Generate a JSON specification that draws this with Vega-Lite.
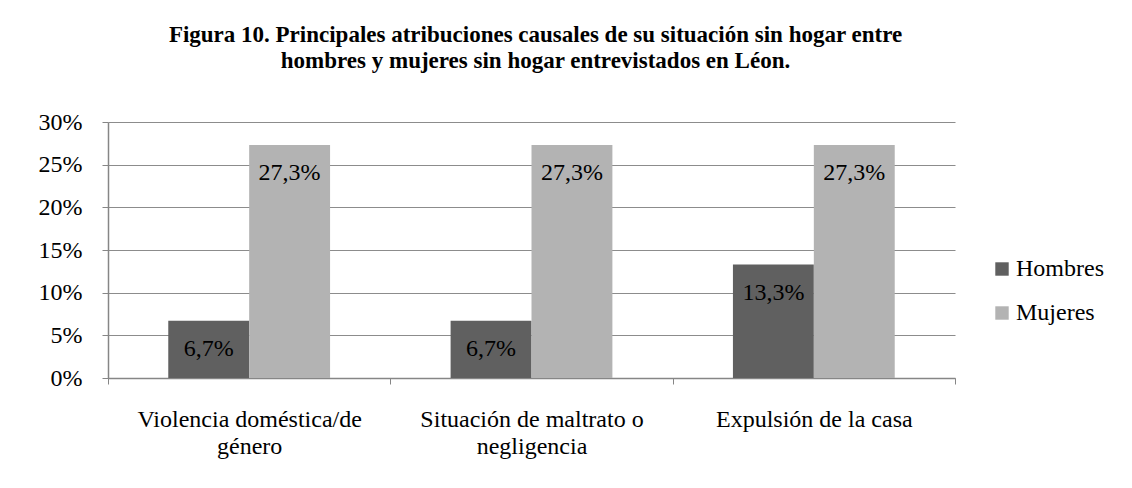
{
  "$schema": "https://vega.github.io/schema/vega-lite/v6.json",
  "width": 847,
  "height": 256,
  "autosize": {"type": "none"},
  "padding": {"left": 108, "top": 122, "right": 177, "bottom": 110},
  "background": "white",
  "config": {
    "font": "Liberation Serif, serif",
    "view": {"stroke": null},
    "locale": {"number": {"decimal": ",", "thousands": ".", "grouping": [3], "currency": ["", " €"]}}
  },
  "title": {
    "text": ["Figura 10. Principales atribuciones causales de su situación sin hogar entre", "hombres y mujeres sin hogar entrevistados en Léon."],
    "font": "Liberation Serif, serif",
    "fontSize": 23,
    "fontWeight": "bold",
    "color": "black",
    "anchor": "middle",
    "offset": 37,
    "lineHeight": 26,
    "dx": 4
  },
  "data": {
    "values": [
      {"categoria": "Violencia doméstica/de género", "sexo": "Hombres", "valor": 0.067},
      {"categoria": "Violencia doméstica/de género", "sexo": "Mujeres", "valor": 0.273},
      {"categoria": "Situación de maltrato o negligencia", "sexo": "Hombres", "valor": 0.067},
      {"categoria": "Situación de maltrato o negligencia", "sexo": "Mujeres", "valor": 0.273},
      {"categoria": "Expulsión de la casa", "sexo": "Hombres", "valor": 0.133},
      {"categoria": "Expulsión de la casa", "sexo": "Mujeres", "valor": 0.273}
    ]
  },
  "encoding": {
    "x": {
      "field": "categoria",
      "type": "nominal",
      "sort": null,
      "scale": {"paddingInner": 0, "paddingOuter": 0},
      "axis": {
        "title": null,
        "labelAngle": 0,
        "labelFont": "Liberation Serif, serif",
        "labelFontSize": 24,
        "labelColor": "black",
        "labelPadding": 23,
        "labelLineHeight": 27,
        "labelLimit": 400,
        "labelExpr": "datum.value == 'Violencia doméstica/de género' ? ['Violencia doméstica/de', 'género'] : datum.value == 'Situación de maltrato o negligencia' ? ['Situación de maltrato o', 'negligencia'] : datum.value",
        "tickBand": "extent",
        "tickSize": 6,
        "tickColor": "#868686",
        "domainColor": "#868686",
        "domainWidth": 1.5,
        "grid": false
      }
    },
    "xOffset": {
      "field": "sexo",
      "type": "nominal",
      "scale": {"paddingInner": 0, "paddingOuter": 0.745}
    },
    "y": {
      "field": "valor",
      "type": "quantitative",
      "scale": {"domain": [0, 0.3], "nice": false},
      "axis": {
        "title": null,
        "format": ".0%",
        "values": [0, 0.05, 0.1, 0.15, 0.2, 0.25, 0.3],
        "labelFont": "Liberation Serif, serif",
        "labelFontSize": 24,
        "labelColor": "black",
        "labelPadding": 20,
        "tickSize": 6,
        "tickColor": "#868686",
        "domainColor": "#868686",
        "domainWidth": 1.5,
        "grid": true,
        "gridColor": "#8c8c8c",
        "gridWidth": 1.2
      }
    }
  },
  "layer": [
    {
      "mark": {"type": "bar"},
      "encoding": {
        "color": {
          "field": "sexo",
          "type": "nominal",
          "scale": {"domain": ["Hombres", "Mujeres"], "range": ["#606060", "#b3b3b3"]},
          "legend": {
            "title": null,
            "orient": "none",
            "legendX": 882,
            "legendY": 135,
            "symbolType": "square",
            "symbolSize": 180,
            "symbolStrokeWidth": 0,
            "labelFont": "Liberation Serif, serif",
            "labelFontSize": 24,
            "labelColor": "black",
            "labelOffset": 2,
            "rowPadding": 20
          }
        }
      }
    },
    {
      "mark": {"type": "text", "baseline": "middle", "dy": 28, "fontSize": 24, "font": "Liberation Serif, serif", "color": "black"},
      "encoding": {
        "text": {"field": "valor", "type": "quantitative", "format": ".1%"}
      }
    }
  ]
}
